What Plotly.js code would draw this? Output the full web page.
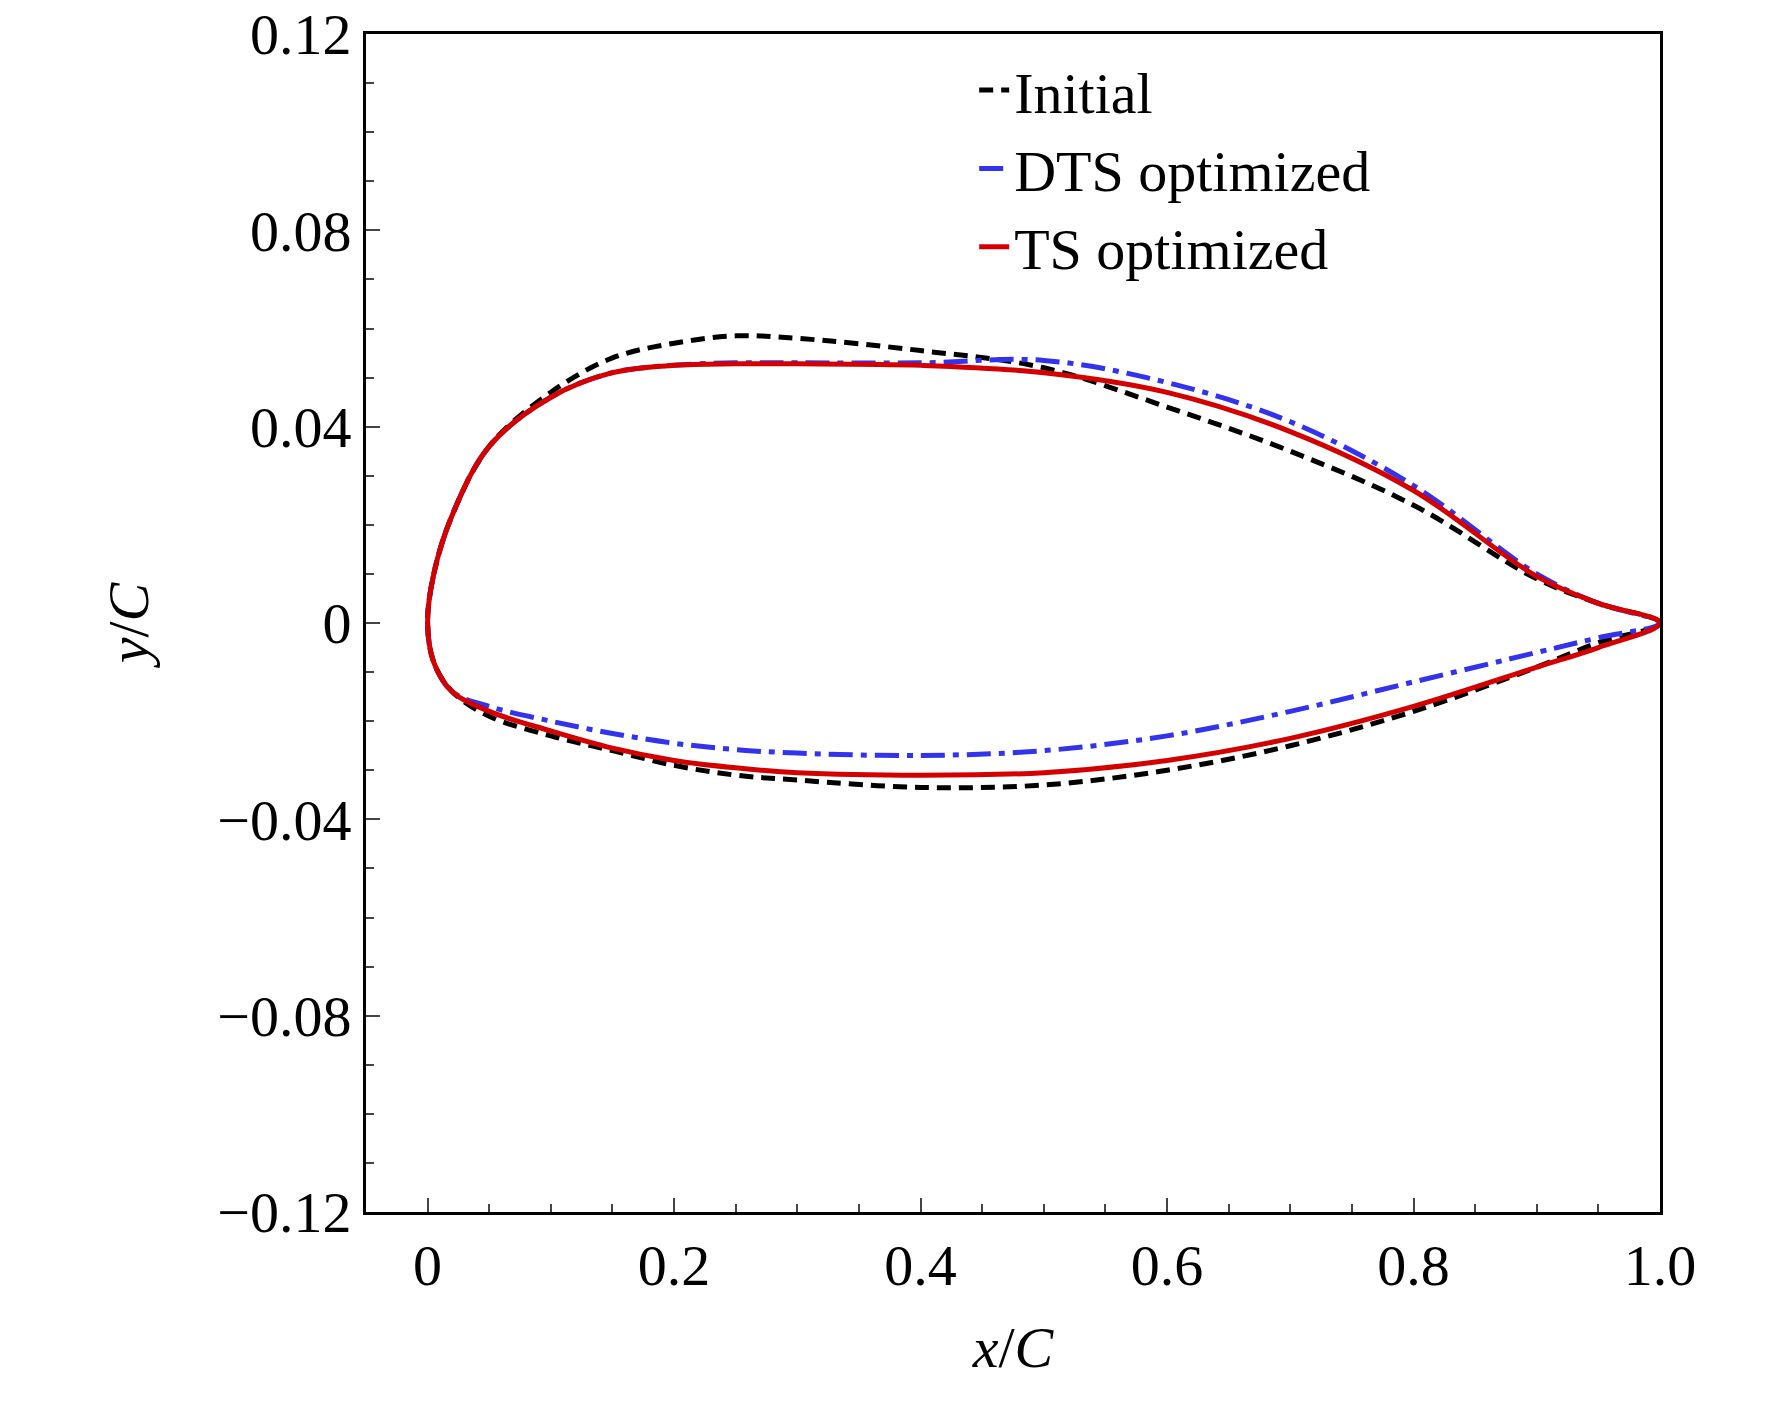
<!DOCTYPE html>
<html>
<head>
<script src="https://cdn.plot.ly/plotly-3.0.1.min.js"></script>
<style>body{margin:0;background:#fff}</style>
</head>
<body>
<div id="graph1"></div>
<script>
// chordwise stations
var xs = [0, 0.005, 0.02, 0.05, 0.1, 0.15, 0.2, 0.25, 0.3, 0.4, 0.5, 0.6, 0.7, 0.8, 0.9, 0.95, 1.0];

// upper / lower surfaces
var initUpper = [0, 0.010, 0.022, 0.036, 0.047, 0.054, 0.057, 0.0585, 0.058, 0.0555, 0.052, 0.044, 0.035, 0.024, 0.009, 0.004, 0];
var initLower = [0, -0.008, -0.014, -0.019, -0.023, -0.026, -0.029, -0.031, -0.032, -0.0335, -0.033, -0.030, -0.025, -0.018, -0.009, -0.004, 0];
var dtsUpper = [0, 0.010, 0.022, 0.036, 0.046, 0.051, 0.0525, 0.053, 0.053, 0.053, 0.0535, 0.049, 0.041, 0.028, 0.010, 0.004, 0];
var dtsLower = [0, -0.008, -0.014, -0.017, -0.020, -0.0225, -0.0245, -0.0258, -0.0265, -0.027, -0.026, -0.023, -0.018, -0.012, -0.006, -0.003, 0];
var tsUpper = [0, 0.010, 0.022, 0.036, 0.046, 0.051, 0.0525, 0.0528, 0.0528, 0.0525, 0.051, 0.047, 0.039, 0.027, 0.0095, 0.004, 0];
var tsLower = [0, -0.008, -0.014, -0.018, -0.022, -0.0255, -0.028, -0.0295, -0.0305, -0.031, -0.0305, -0.028, -0.0235, -0.017, -0.009, -0.005, 0];

function loop(up, lo) {
    var x = xs.slice().reverse().concat(xs.slice(1));
    var y = up.slice().reverse().concat(lo.slice(1));
    return { x: x, y: y };
}

var a = loop(initUpper, initLower);
var b = loop(dtsUpper, dtsLower);
var c = loop(tsUpper, tsLower);

var Initial = {
    x: a.x, y: a.y, mode: 'lines', name: 'Initial',
    line: { color: '#000000', width: 5, dash: '14px,8px', shape: 'spline' }
};
var DTS = {
    x: b.x, y: b.y, mode: 'lines', name: 'DTS optimized',
    line: { color: '#3333ee', width: 5, dash: '24px,8px,6px,8px', shape: 'spline' }
};
var TS = {
    x: c.x, y: c.y, mode: 'lines', name: 'TS optimized',
    line: { color: '#d40000', width: 5, shape: 'spline' }
};

var font = { family: 'Liberation Serif, Times New Roman, serif', size: 58, color: '#000' };

var layout = {
    width: 1772, height: 1406,
    margin: { l: 366, r: 112, t: 34, b: 194 },
    font: font,
    showlegend: true,
    legend: { x: 0.47, y: 0.99, xanchor: 'left', yanchor: 'top', bgcolor: 'rgba(0,0,0,0)', font: font, tracegroupgap: 0 },
    xaxis: {
        range: [-0.05, 1.0], tickvals: [0, 0.2, 0.4, 0.6, 0.8, 1.0], ticktext: ['0', '0.2', '0.4', '0.6', '0.8', '1.0'],
        ticks: 'inside', ticklen: 14, tickwidth: 2, showline: true, linewidth: 3, linecolor: '#000', mirror: true,
        showgrid: false, zeroline: false,
        minor: { dtick: 0.05, tick0: 0, ticks: 'inside', ticklen: 8, tickwidth: 2, showgrid: false },
        title: { text: '<i>x</i>/<i>C</i>', font: font, standoff: 30 }
    },
    yaxis: {
        range: [-0.12, 0.12], tickvals: [-0.12, -0.08, -0.04, 0, 0.04, 0.08, 0.12],
        ticktext: ['\u22120.12', '\u22120.08', '\u22120.04', '0', '0.04', '0.08', '0.12'],
        ticks: 'inside', ticklen: 14, tickwidth: 2, showline: true, linewidth: 3, linecolor: '#000', mirror: true,
        showgrid: false, zeroline: false,
        minor: { dtick: 0.01, tick0: 0, ticks: 'inside', ticklen: 8, tickwidth: 2, showgrid: false },
        title: { text: '<i>y</i>/<i>C</i>', font: font, standoff: 50 }
    },
    plot_bgcolor: '#fff', paper_bgcolor: '#fff'
};

Plotly.newPlot('graph1', [Initial, DTS, TS], layout, { displayModeBar: false });
</script>
</body>
</html>
